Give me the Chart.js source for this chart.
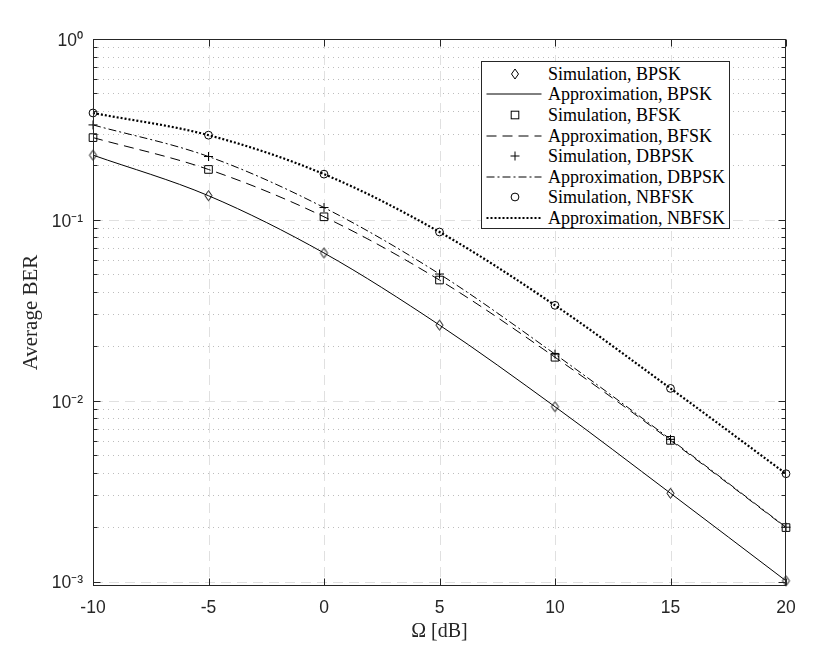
<!DOCTYPE html>
<html>
<head>
<meta charset="utf-8">
<script src="https://cdn.jsdelivr.net/npm/chart.js@4.4.1/dist/chart.umd.min.js"></script>
<style>
html,body{margin:0;padding:0;background:#fff;}
#wrap{position:relative;width:830px;height:651px;overflow:hidden;}
#legend{position:absolute;left:481px;top:61px;width:249px;height:168px;border:1px solid #262626;background:#fff;
  font-family:"Liberation Serif","Times New Roman",serif;font-size:18px;color:#000;box-sizing:border-box;padding-top:1.5px;}
.row{height:20.6px;display:flex;align-items:center;white-space:nowrap;line-height:20px;}
.row svg{flex:none;width:66px;height:20px;display:block;}
</style>
</head>
<body>
<div id="wrap">
<canvas id="c" width="830" height="651"></canvas>
<div id="legend"></div>
</div>
<script>
// ---- data ----
const omega = [-10, -5, 0, 5, 10, 15, 20];
const simBPSK    = [0.228, 0.136, 0.0656, 0.0262, 0.00927, 0.00308, 0.00101];
const approxBPSK = [0.228, 0.136, 0.0656, 0.0262, 0.00927, 0.00308, 0.00101];
const simBFSK    = [0.285, 0.190, 0.104, 0.0465, 0.0174, 0.00604, 0.00199];
const approxBFSK = [0.285, 0.190, 0.104, 0.0465, 0.0174, 0.00604, 0.00199];
const simDBPSK    = [0.335, 0.224, 0.117, 0.0502, 0.0181, 0.00612, 0.00200];
const approxDBPSK = [0.335, 0.224, 0.117, 0.0502, 0.0181, 0.00612, 0.00200];
const simNBFSK    = [0.390, 0.294, 0.179, 0.0857, 0.0337, 0.0117, 0.00395];
const approxNBFSK = [0.390, 0.294, 0.179, 0.0857, 0.0337, 0.0117, 0.00395];
const xTicks = [-10, -5, 0, 5, 10, 15, 20];
const yTickValues = [0.001, 0.01, 0.1, 1];
const yTickLabels = ['10\u207B\u00B3', '10\u207B\u00B2', '10\u207B\u00B9', '10\u2070'];
const seriesNames = ['Simulation, BPSK','Approximation, BPSK','Simulation, BFSK','Approximation, BFSK',
                     'Simulation, DBPSK','Approximation, DBPSK','Simulation, NBFSK','Approximation, NBFSK'];

const AX = '#262626';
function pts(arr){ return omega.map((x,i)=>({x:x, y:arr[i]})); }

function makeDiamond(){
  const c = document.createElement('canvas'); c.width = 11; c.height = 13;
  const g = c.getContext('2d'); g.strokeStyle = '#000'; g.lineWidth = 1;
  g.beginPath(); g.moveTo(5.5,1.5); g.lineTo(9,6.5); g.lineTo(5.5,11.5); g.lineTo(2,6.5); g.closePath(); g.stroke();
  return c;
}

const simBase = {showLine:false, borderColor:'#000', backgroundColor:'rgba(0,0,0,0)', borderWidth:1, clip:false};
const apxBase = {showLine:true, borderColor:'#000', borderWidth:1, pointRadius:0, pointHoverRadius:0, clip:false, fill:false, cubicInterpolationMode:'monotone'};

const datasets = [
  Object.assign({}, simBase, {label:seriesNames[0], data:pts(simBPSK), pointStyle:makeDiamond(), pointRadius:5}),
  Object.assign({}, apxBase, {label:seriesNames[1], data:pts(approxBPSK)}),
  Object.assign({}, simBase, {label:seriesNames[2], data:pts(simBFSK), pointStyle:'rect', pointRadius:5.4}),
  Object.assign({}, apxBase, {label:seriesNames[3], data:pts(approxBFSK), borderDash:[10,6]}),
  Object.assign({}, simBase, {label:seriesNames[4], data:pts(simDBPSK), pointStyle:'cross', pointRadius:4.5}),
  Object.assign({}, apxBase, {label:seriesNames[5], data:pts(approxDBPSK), borderDash:[8,3,2,3]}),
  Object.assign({}, simBase, {label:seriesNames[6], data:pts(simNBFSK), pointStyle:'circle', pointRadius:3.9}),
  Object.assign({}, apxBase, {label:seriesNames[7], data:pts(approxNBFSK), borderDash:[2,2], borderWidth:2.2})
];

const matlabAxes = {
  id:'matlabAxes',
  beforeDatasetsDraw(chart){
    const {ctx, chartArea:{left,right,top,bottom}, scales:{x,y}} = chart;
    ctx.save();
    ctx.lineWidth = 1;
    // minor y grid (dotted)
    ctx.setLineDash([1,4]); ctx.strokeStyle = '#bdbdbd';
    for(let e=-4;e<=0;e++){ for(let k=2;k<=9;k++){
      const v = k*Math.pow(10,e); if(v<y.min || v>y.max) continue;
      const py = Math.round(y.getPixelForValue(v))+0.5;
      ctx.beginPath(); ctx.moveTo(left,py); ctx.lineTo(right,py); ctx.stroke();
    }}
    // major grid (dashed)
    ctx.setLineDash([10,6]); ctx.strokeStyle = '#e0e0e0';
    yTickValues.forEach(v=>{ if(v>=y.max) return;
      const py = Math.round(y.getPixelForValue(v))+0.5;
      ctx.beginPath(); ctx.moveTo(left,py); ctx.lineTo(right,py); ctx.stroke(); });
    xTicks.forEach(v=>{ if(v<=x.min || v>=x.max) return;
      const px = Math.round(x.getPixelForValue(v))+0.5;
      ctx.beginPath(); ctx.moveTo(px,top); ctx.lineTo(px,bottom); ctx.stroke(); });
    ctx.restore();
  },
  afterDatasetsDraw(chart){
    const {ctx, chartArea:{left,right,top,bottom}, scales:{x,y}} = chart;
    ctx.save();
    ctx.lineWidth = 1; ctx.strokeStyle = AX; ctx.setLineDash([]);
    const L = Math.round(left)+0.5, R = Math.round(right)-0.5, T = Math.round(top)+0.5, B = Math.round(bottom)-0.5;
    ctx.beginPath();
    // y ticks inward, both sides
    for(let e=-4;e<=0;e++){ for(let k=1;k<=9;k++){
      const v = k*Math.pow(10,e); if(v<y.min || v>y.max) continue;
      const len = k===1 ? 7 : 4;
      const py = Math.round(y.getPixelForValue(v))+0.5;
      ctx.moveTo(L,py); ctx.lineTo(L+len,py);
      ctx.moveTo(R,py); ctx.lineTo(R-len,py);
    }}
    xTicks.forEach(v=>{
      const px = Math.round(x.getPixelForValue(v))+0.5;
      ctx.moveTo(px,B); ctx.lineTo(px,B-7);
      ctx.moveTo(px,T); ctx.lineTo(px,T+7);
    });
    ctx.stroke();
    ctx.strokeRect(L, T, R-L, B-T);
    ctx.restore();
  }
};

new Chart(document.getElementById('c'), {
  type:'scatter',
  data:{datasets:datasets},
  options:{
    responsive:false, animation:false, devicePixelRatio:1,
    layout:{padding:{top:39, right:44, left:0, bottom:0}},
    plugins:{legend:{display:false}, tooltip:{enabled:false}},
    events:[],
    scales:{
      x:{type:'linear', min:-10, max:20,
        afterBuildTicks:(s)=>{ s.ticks = xTicks.map(v=>({value:v})); },
        afterFit:(s)=>{ s.height = 65; },
        grid:{display:false, drawTicks:false}, border:{display:false},
        ticks:{padding:12, color:AX, font:{family:'"Liberation Sans", Arial, sans-serif', size:17.5}, maxRotation:0,
          callback:(v)=>String(v)},
        title:{display:true, text:'\u03A9 [dB]', color:AX, padding:{top:0,bottom:7},
          font:{family:'"Liberation Serif","Times New Roman",serif', size:20}}
      },
      y:{type:'logarithmic', min:0.000946, max:1,
        afterBuildTicks:(s)=>{ s.ticks = yTickValues.map(v=>({value:v})); },
        afterFit:(s)=>{ s.width = 93; },
        grid:{display:false, drawTicks:false}, border:{display:false},
        ticks:{padding:10, labelOffset:2, color:AX, font:{family:'"Liberation Sans", Arial, sans-serif', size:17.5},
          callback:(v)=>{ const i = yTickValues.findIndex(t=>Math.abs(t-v)/t<1e-6); return i>=0 ? yTickLabels[i] : ''; }},
        title:{display:true, text:'Average BER', color:AX, padding:{top:19,bottom:0},
          font:{family:'"Liberation Serif","Times New Roman",serif', size:21}}
      }
    }
  },
  plugins:[matlabAxes]
});

// ---- legend (HTML, real text) ----
const sym = [
  '<polygon points="33,5 36.5,10 33,15 29.5,10" fill="none" stroke="#000" stroke-width="1"/>',
  '<line x1="4.5" y1="10" x2="59.5" y2="10" stroke="#000" stroke-width="1"/>',
  '<rect x="29.2" y="6.2" width="7.6" height="7.6" fill="none" stroke="#000" stroke-width="1"/>',
  '<line x1="4.5" y1="10" x2="59.5" y2="10" stroke="#000" stroke-width="1" stroke-dasharray="10 6"/>',
  '<path d="M28.5 10H37.5M33 5.5V14.5" stroke="#000" stroke-width="1"/>',
  '<line x1="4.5" y1="10" x2="59.5" y2="10" stroke="#000" stroke-width="1" stroke-dasharray="8 3 2 3"/>',
  '<circle cx="33" cy="10" r="3.9" fill="none" stroke="#000" stroke-width="1"/>',
  '<line x1="4.5" y1="10" x2="59.5" y2="10" stroke="#000" stroke-width="2.2" stroke-dasharray="2 2"/>'
];
document.getElementById('legend').innerHTML = seriesNames.map((n,i)=>
  '<div class="row"><svg viewBox="0 0 66 20">'+sym[i]+'</svg><span>'+n+'</span></div>').join('');
</script>
</body>
</html>
